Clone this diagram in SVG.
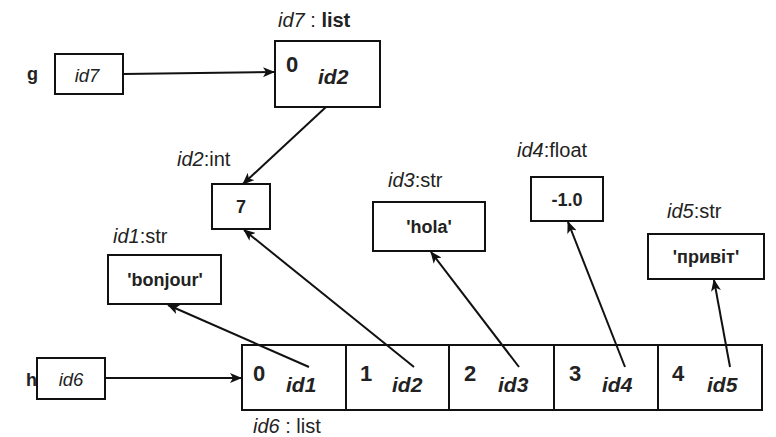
<svg xmlns="http://www.w3.org/2000/svg" width="776" height="437" viewBox="0 0 776 437">
<defs>
<marker id="arr" viewBox="0 0 12 10" refX="11" refY="5" markerWidth="12" markerHeight="10" markerUnits="userSpaceOnUse" orient="auto">
<path d="M0,0 L12,5 L0,10 L3,5 Z" fill="#111"/>
</marker>
<style>
.box{fill:#fff;stroke:#111;stroke-width:2}
.t{font-family:"Liberation Sans",Arial,sans-serif;fill:#222}
.lbl{font-size:20px}
.bx{font-size:18.5px}
.it{font-style:italic}
.b{font-weight:bold}
.var{font-size:18px;font-weight:bold}
.num{font-size:22px;font-weight:bold}
.ref{font-size:21px;font-weight:bold;font-style:italic}
.val{font-size:18px;font-weight:bold}
.c{stroke:#111;stroke-width:2;fill:none;marker-end:url(#arr)}
</style>
</defs>
<rect width="776" height="437" fill="#fff"/>

<g id="var-g">
<text class="t var" x="27" y="80">g</text>
<rect class="box" x="55" y="54" width="68" height="40"/>
<text class="t bx it" x="87" y="82" text-anchor="middle">id7</text>
</g>

<g id="var-h">
<text class="t var" x="26" y="386">h</text>
<rect class="box" x="37" y="358" width="68" height="41"/>
<text class="t bx it" x="71" y="386" text-anchor="middle">id6</text>
</g>

<g id="id7-list">
<text class="t lbl" x="278" y="27"><tspan class="it">id7</tspan> : <tspan class="b">list</tspan></text>
<rect class="box" x="275" y="41" width="105" height="66"/>
<text class="t num" x="286" y="72">0</text>
<text class="t ref" x="318" y="84">id2</text>
</g>

<g id="id2-int">
<text class="t lbl" x="177" y="166"><tspan class="it">id2</tspan>:int</text>
<rect class="box" x="212" y="184" width="58" height="45"/>
<text class="t val" x="241" y="213" text-anchor="middle">7</text>
</g>

<g id="id1-str">
<text class="t lbl" x="113" y="243"><tspan class="it">id1</tspan>:str</text>
<rect class="box" x="108" y="255" width="113" height="49"/>
<text class="t val" x="165" y="286" text-anchor="middle">'bonjour'</text>
</g>

<g id="id3-str">
<text class="t lbl" x="388" y="187"><tspan class="it">id3</tspan>:str</text>
<rect class="box" x="373" y="202" width="112" height="49"/>
<text class="t val" x="429" y="233" text-anchor="middle">'hola'</text>
</g>

<g id="id4-float">
<text class="t lbl" x="517" y="157"><tspan class="it">id4</tspan>:float</text>
<rect class="box" x="531" y="177" width="72" height="44"/>
<text class="t val" x="567" y="206" text-anchor="middle">-1.0</text>
</g>

<g id="id5-str">
<text class="t lbl" x="667" y="218"><tspan class="it">id5</tspan>:str</text>
<rect class="box" x="648" y="234" width="116" height="45"/>
<text class="t val" x="706" y="263" text-anchor="middle">'привіт'</text>
</g>

<g id="id6-list">
<rect class="box" x="242" y="345" width="104" height="65"/>
<rect class="box" x="346" y="345" width="103" height="65"/>
<rect class="box" x="449" y="345" width="105" height="65"/>
<rect class="box" x="554" y="345" width="104" height="65"/>
<rect class="box" x="658" y="345" width="104" height="65"/>
<text class="t num" x="253" y="381">0</text>
<text class="t ref" x="286" y="392">id1</text>
<text class="t num" x="360" y="381">1</text>
<text class="t ref" x="392" y="392">id2</text>
<text class="t num" x="464" y="381">2</text>
<text class="t ref" x="498" y="392">id3</text>
<text class="t num" x="569" y="381">3</text>
<text class="t ref" x="602" y="392">id4</text>
<text class="t num" x="672" y="381">4</text>
<text class="t ref" x="707" y="392">id5</text>
<text class="t lbl" x="253" y="433"><tspan class="it">id6</tspan> : list</text>
</g>

<g id="connectors">
<line class="c" x1="123" y1="74" x2="274" y2="72"/>
<line class="c" x1="105" y1="378" x2="241" y2="378"/>
<line class="c" x1="326" y1="107" x2="243" y2="184"/>
<line class="c" x1="309" y1="367" x2="168" y2="305"/>
<line class="c" x1="414" y1="367" x2="244" y2="230"/>
<line class="c" x1="519" y1="367" x2="431" y2="252"/>
<line class="c" x1="625" y1="367" x2="568" y2="222"/>
<line class="c" x1="730" y1="367" x2="714" y2="280"/>
</g>
</svg>
